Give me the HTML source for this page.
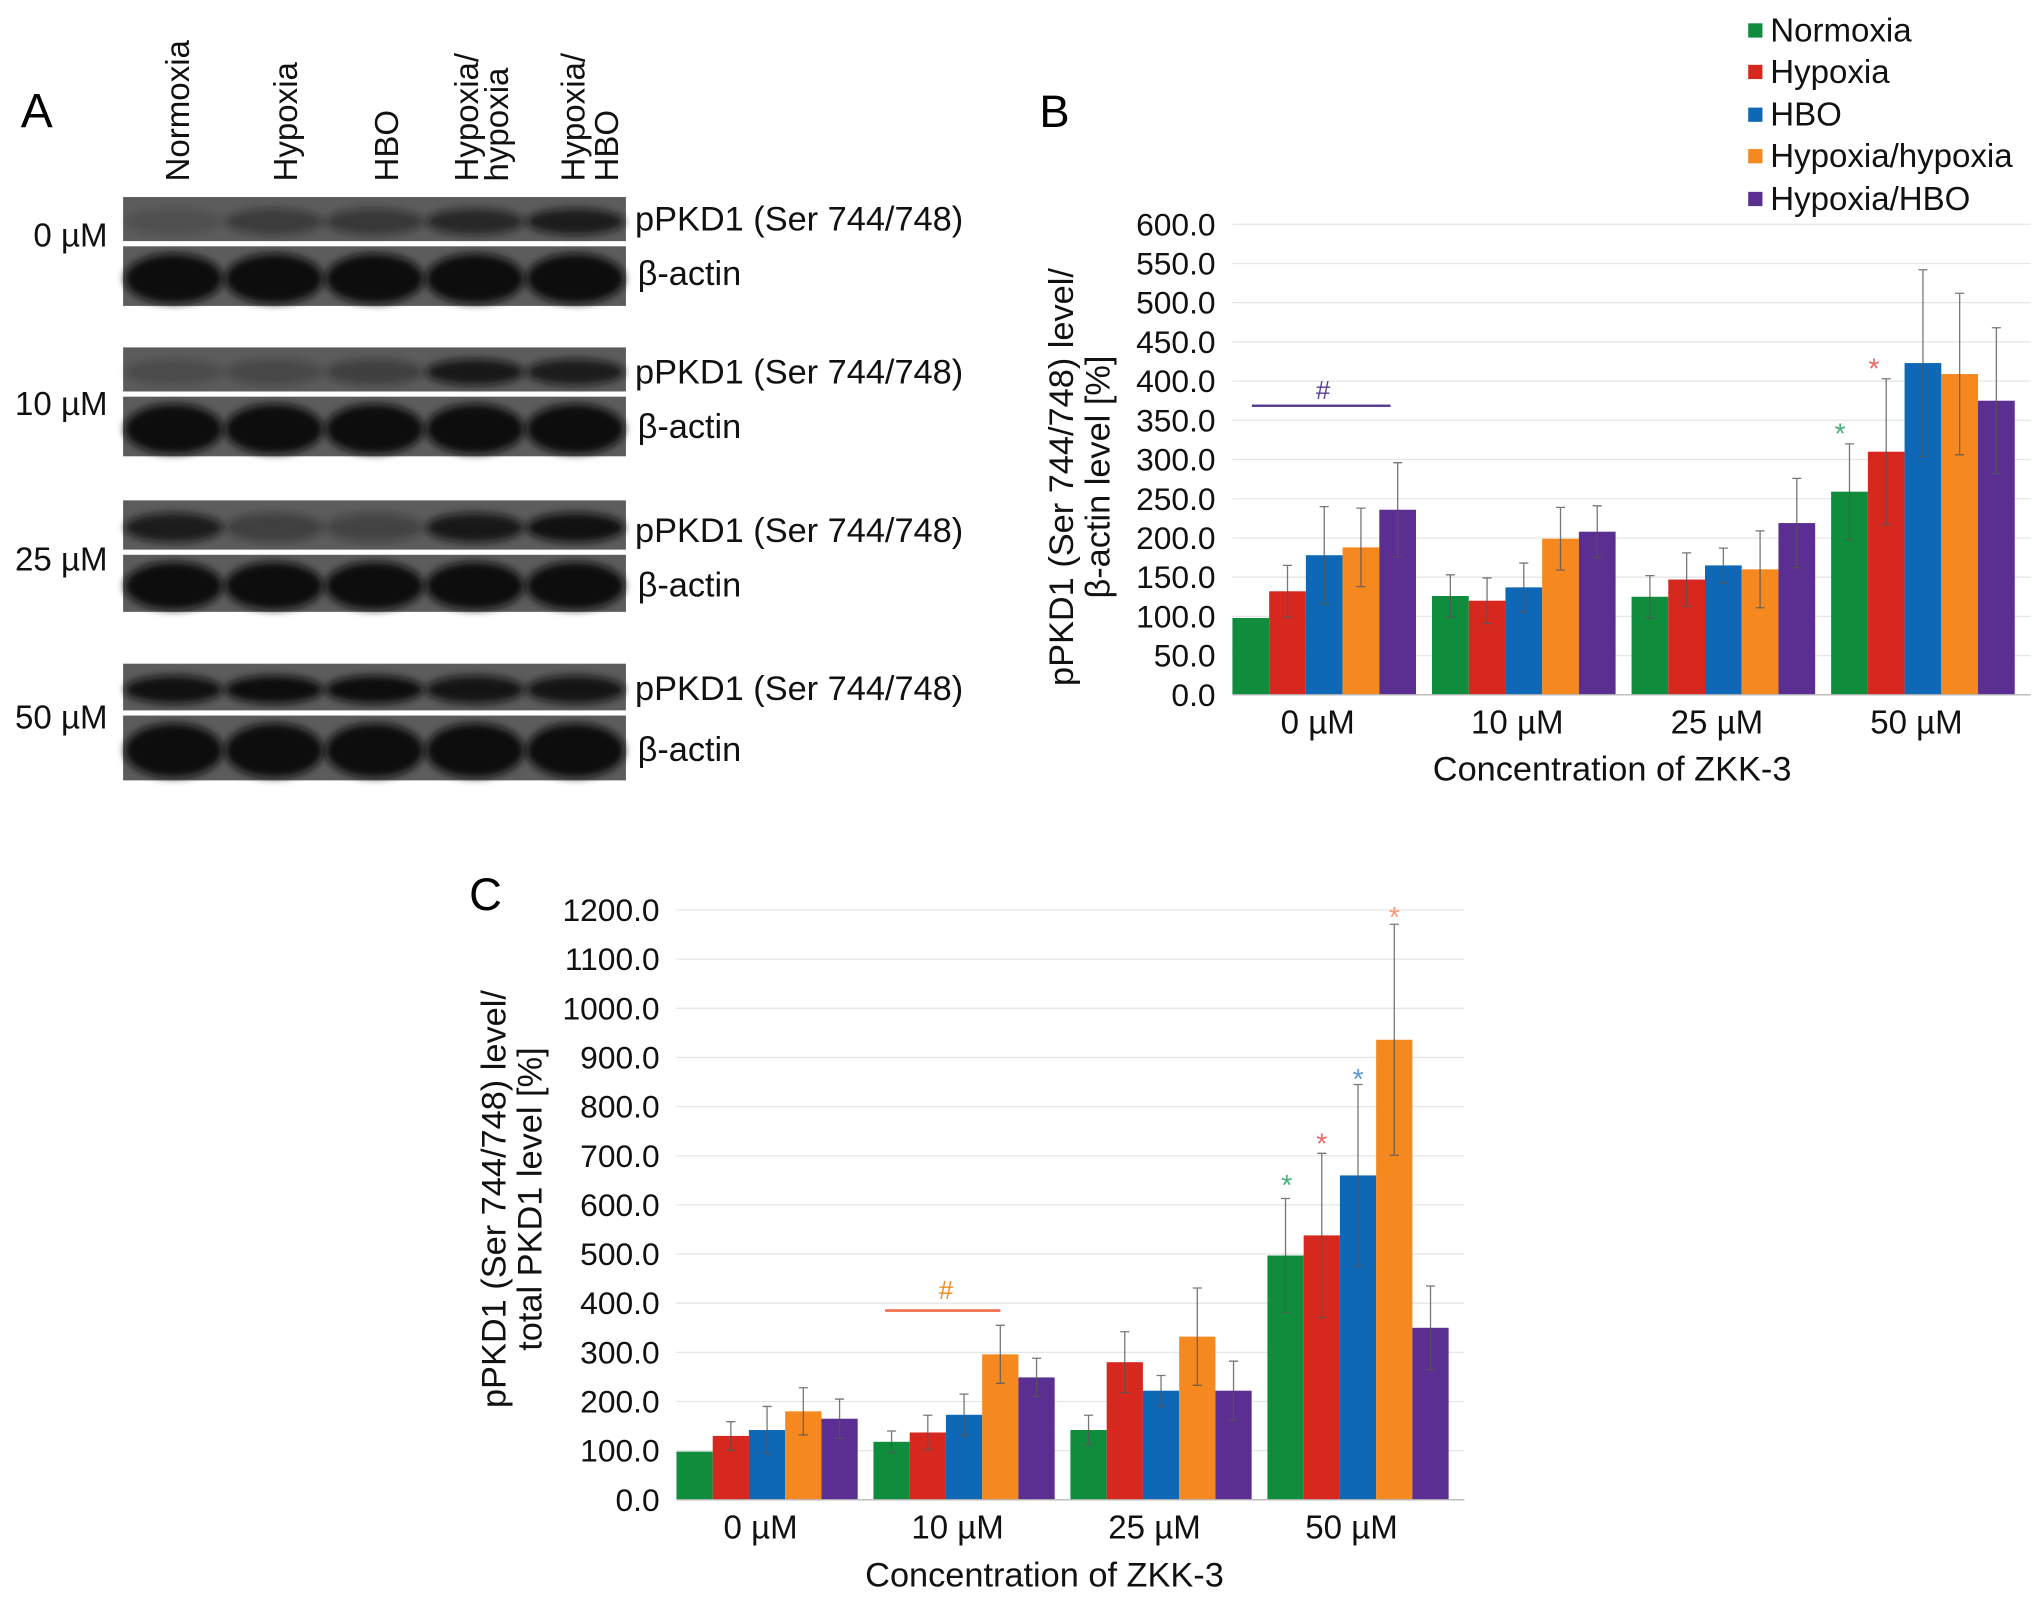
<!DOCTYPE html>
<html><head><meta charset="utf-8"><style>
html,body{margin:0;padding:0;background:#fff}
svg{display:block;font-family:"Liberation Sans",Arial,sans-serif}
</style></head><body>
<svg id="fig" width="2032" height="1610" viewBox="0 0 1568 1242" preserveAspectRatio="none" xmlns="http://www.w3.org/2000/svg">
<defs><filter id="blur" x="-20%" y="-50%" width="140%" height="200%"><feGaussianBlur stdDeviation="3"/></filter></defs>
<g id="panelA"></g>
<g id="panelB"></g>
<g id="panelC"></g>
<g>
<text x="16" y="98" font-size="37">A</text>
<g font-size="25.5" fill="#111">
<text transform="translate(146,140) rotate(-90)">Normoxia</text>
<text transform="translate(229,140) rotate(-90)">Hypoxia</text>
<text transform="translate(307,140) rotate(-90)">HBO</text>
<text transform="translate(369,140) rotate(-90)">Hypoxia/</text>
<text transform="translate(392,140) rotate(-90)">hypoxia</text>
<text transform="translate(451,140) rotate(-90)">Hypoxia/</text>
<text transform="translate(477,140) rotate(-90)">HBO</text>
<text x="83" y="190" text-anchor="end">0 µM</text>
<text x="83" y="320" text-anchor="end">10 µM</text>
<text x="83" y="440" text-anchor="end">25 µM</text>
<text x="83" y="562" text-anchor="end">50 µM</text>
</g>
<g font-size="26.5" fill="#111">
<text x="490" y="178">pPKD1 (Ser 744/748)</text>
<text x="492" y="220">β-actin</text>
<text x="490" y="296">pPKD1 (Ser 744/748)</text>
<text x="492" y="338">β-actin</text>
<text x="490" y="418">pPKD1 (Ser 744/748)</text>
<text x="492" y="460">β-actin</text>
<text x="490" y="540">pPKD1 (Ser 744/748)</text>
<text x="492" y="587">β-actin</text>
</g>
<text x="802" y="98" font-size="35">B</text>
<text x="362" y="702" font-size="35">C</text>
<g font-size="25.5" fill="#111">
<rect x="1349" y="18" width="11" height="11" fill="#0f8c3c"/>
<text x="1366" y="32">Normoxia</text>
<rect x="1349" y="50" width="11" height="11" fill="#d7281f"/>
<text x="1366" y="64">Hypoxia</text>
<rect x="1349" y="83" width="11" height="11" fill="#0f68b5"/>
<text x="1366" y="97">HBO</text>
<rect x="1349" y="115" width="11" height="11" fill="#f5891f"/>
<text x="1366" y="129">Hypoxia/hypoxia</text>
<rect x="1349" y="148" width="11" height="11" fill="#5b2e91"/>
<text x="1366" y="162">Hypoxia/HBO</text>
</g>
<g font-size="26.5" fill="#111">
<text transform="translate(828,368) rotate(-90)" text-anchor="middle">pPKD1 (Ser 744/748) level/</text>
<text transform="translate(856,368) rotate(-90)" text-anchor="middle">β-actin level [%]</text>
<text x="1244" y="602" text-anchor="middle">Concentration of ZKK-3</text>
<text transform="translate(390,925) rotate(-90)" text-anchor="middle">pPKD1 (Ser 744/748) level/</text>
<text transform="translate(418,925) rotate(-90)" text-anchor="middle">total PKD1 level [%]</text>
<text x="806" y="1224" text-anchor="middle">Concentration of ZKK-3</text>
</g>
<g font-size="22">
<line x1="966" x2="1073" y1="313" y2="313" stroke="#5b3e91" stroke-width="2"/>
<text x="1021" y="308" text-anchor="middle" fill="#5b3e91" font-size="20">#</text>
<text x="1420" y="342" text-anchor="middle" fill="#4caf7a">*</text>
<text x="1446" y="292" text-anchor="middle" fill="#e86b6b">*</text>
<line x1="683" x2="772" y1="1011" y2="1011" stroke="#f26b4a" stroke-width="2"/>
<text x="730" y="1002" text-anchor="middle" fill="#f5891f" font-size="20">#</text>
<text x="993" y="922" text-anchor="middle" fill="#4caf7a">*</text>
<text x="1020" y="890" text-anchor="middle" fill="#e86b6b">*</text>
<text x="1048" y="840" text-anchor="middle" fill="#5a9bd5">*</text>
<text x="1076" y="715" text-anchor="middle" fill="#f59a7a">*</text>
</g>
</g>
</svg>
<script>
const categories = ["0 µM","10 µM","25 µM","50 µM"];
const seriesNames = ["Normoxia","Hypoxia","HBO","Hypoxia/hypoxia","Hypoxia/HBO"];
const colors = ["#0f8c3c","#d7281f","#0f68b5","#f5891f","#5b2e91"];
// Panel B values
const bNormoxia = [98,126,125,259];
const bHypoxia = [132,120,147,310];
const bHBO = [178,137,165,423];
const bHypHyp = [188,199,160,409];
const bHypHBO = [236,208,219,375];
const bErrNormoxia = [0,27,27,61];
const bErrHypoxia = [33,29,34,93];
const bErrHBO = [62,31,22,119];
const bErrHypHyp = [50,40,49,103];
const bErrHypHBO = [60,33,57,93];
const bTicks = ["0.0","50.0","100.0","150.0","200.0","250.0","300.0","350.0","400.0","450.0","500.0","550.0","600.0"];
// Panel C values
const cNormoxia = [98,118,142,497];
const cHypoxia = [130,137,280,538];
const cHBO = [142,173,222,660];
const cHypHyp = [180,296,332,936];
const cHypHBO = [165,249,222,350];
const cErrNormoxia = [0,22,30,116];
const cErrHypoxia = [29,35,62,167];
const cErrHBO = [48,42,31,185];
const cErrHypHyp = [48,59,99,235];
const cErrHypHBO = [40,39,60,85];
const cTicks = ["0.0","100.0","200.0","300.0","400.0","500.0","600.0","700.0","800.0","900.0","1000.0","1100.0","1200.0"];

const NS="http://www.w3.org/2000/svg";
function mk(tag,attrs,parent,text){const e=document.createElementNS(NS,tag);for(const k in attrs)e.setAttribute(k,attrs[k]);if(text!==undefined)e.textContent=text;parent.appendChild(e);return e;}

function chart(g,o){
  const {x0,x1,y0,y1,vmax,ticks,vals,errs,prefix}=o;
  const ys=v=>y0-(v/vmax)*(y0-y1);
  const cw=(x1-x0)/categories.length;
  ticks.forEach((t,i)=>{
    const v=vmax*i/(ticks.length-1);
    const gl=mk('line',{x1:x0,x2:x1,y1:ys(v),y2:ys(v),stroke:'#e6e6e6','stroke-width':1},g);
    
    
    const tl=mk('text',{x:x0-13,y:ys(v)+8.5,'text-anchor':'end','font-size':24.5,fill:'#111'},g,t);
    
    
  });
  const bw=cw*0.92/5;
  categories.forEach((c,ci)=>{
    const gx=x0+ci*cw;
    vals.forEach((s,si)=>{
      const v=s[ci],bx=gx+si*bw;
      const r=mk('rect',{x:bx,y:ys(v),width:bw,height:ys(0)-ys(v),fill:colors[si]},g);
      
      
      const e=errs[si][ci];
      if(e>0){
        const cx=bx+bw/2;
        const el=mk('path',{d:`M${cx},${ys(v+e)}V${ys(v-e)}M${cx-3.5},${ys(v+e)}h7M${cx-3.5},${ys(v-e)}h7`,stroke:'#555','stroke-width':1,fill:'none',opacity:0.8},g);
        
        
      }
    });
    const cl=mk('text',{x:gx+cw*0.92/2-5,y:y0+30,'text-anchor':'middle','font-size':25.5,fill:'#111'},g,c);
    
    
  });
  const ax=mk('line',{x1:x0,x2:x1,y1:y0,y2:y0,stroke:'#bbb','stroke-width':1},g);
  
  
}

chart(document.getElementById('panelB'),{x0:951,x1:1567,y0:536,y1:173,vmax:600,ticks:bTicks,vals:[bNormoxia,bHypoxia,bHBO,bHypHyp,bHypHBO],errs:[bErrNormoxia,bErrHypoxia,bErrHBO,bErrHypHyp,bErrHypHBO],prefix:'b'});
chart(document.getElementById('panelC'),{x0:522,x1:1130,y0:1157,y1:702,vmax:1200,ticks:cTicks,vals:[cNormoxia,cHypoxia,cHBO,cHypHyp,cHypHBO],errs:[cErrNormoxia,cErrHypoxia,cErrHBO,cErrHypHyp,cErrHypHBO],prefix:'c'});

const gA=document.getElementById('panelA');
const strips=[[152,186,[0.15,0.4,0.45,0.65,0.8]],[190,236,[1,1,1,1,1]],[268,302,[0.2,0.25,0.35,0.85,0.8]],[306,352,[1,1,1,1,1]],[386,424,[0.8,0.35,0.3,0.85,0.95]],[428,472,[1,1,1,1,1]],[512,548,[0.95,1,1,0.9,0.9]],[552,602,[1,1,1,1,1]]];
strips.forEach((s,i)=>{
  const r=mk('rect',{x:95,y:s[0],width:388,height:s[1]-s[0],fill:'#5c5c5c'},gA);
  
  
  s[2].forEach((a,li)=>{
    const e=mk('ellipse',{cx:95+39+li*77.5,cy:(s[0]+s[1])/2+2,rx:38,ry:(s[1]-s[0])*(i%2?0.42:0.3),fill:'#111',opacity:a,filter:'url(#blur)'},gA);
    
    
  });
});
</script>
</body></html>
